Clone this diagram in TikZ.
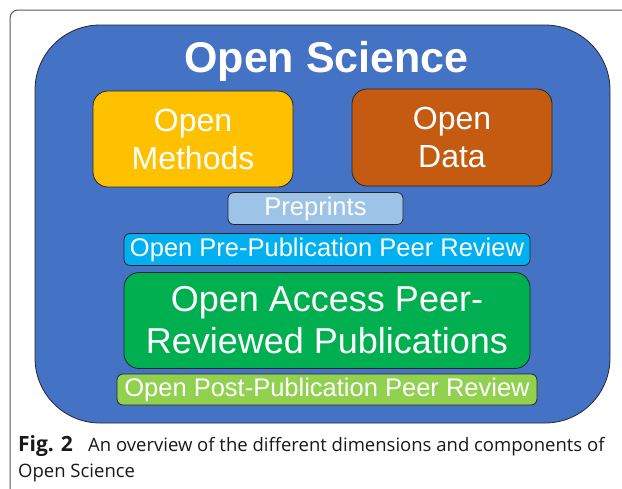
\documentclass[tikz,border=0pt]{standalone}
\usepackage{fontspec}
\setmainfont{Liberation Sans}
\newfontfamily\capfont{Open Sans}
\definecolor{osblue}{HTML}{4472C4}
\definecolor{osyellow}{HTML}{FFC000}
\definecolor{osorange}{HTML}{C55A11}
\definecolor{oslight}{HTML}{9DC3E6}
\definecolor{oscyan}{HTML}{00B0F0}
\definecolor{osgreen}{HTML}{00B050}
\definecolor{oslime}{HTML}{92D050}
\tikzset{
  box/.style={draw=black!85, line width=0.8pt, text=white, align=center, inner sep=0pt, font=\fontsize{25.5}{30}\selectfont},
  bigbox/.style={box, rounded corners=15pt, font=\fontsize{32}{38}\selectfont},
  slimbox/.style={box, rounded corners=6pt},
  captext/.style={anchor=base west, inner sep=0pt, font=\capfont\fontsize{18.5}{26}\selectfont, text=black!90},
}
\begin{document}
\begin{tikzpicture}[x=1pt,y=-1pt]
\useasboundingbox (0,0) rectangle (622,488);
\clip (0,0) rectangle (622,488);
\fill[white] (0,0) rectangle (622,488);
\draw[black!65, line width=1pt, rounded corners=8pt] (10,10) rectangle (660,540);
% outer Open Science box
\node[draw=black!85, line width=0.8pt, fill=osblue, rounded corners=65pt, minimum width=575pt, minimum height=398pt, inner sep=0pt] (os) at (322.5,224) {};
\node[anchor=base, text=white, font=\fontsize{43}{50}\selectfont\bfseries, inner sep=0pt] (title) at (326.5,72) {Open Science};
\node[bigbox, fill=osyellow, minimum width=200pt, minimum height=96pt] (methods) at (193,139) {Open\\Methods};
\node[bigbox, fill=osorange, minimum width=200pt, minimum height=97pt] (data) at (452,137.5) {Open\\Data};
\node[slimbox, fill=oslight, minimum width=175pt, minimum height=32pt] (pre) at (315.5,208.5) {Preprints};
\node[slimbox, fill=oscyan, minimum width=406pt, minimum height=32pt] (prepub) at (327,249.5) {Open Pre-Publication Peer Review};
\node[bigbox, fill=osgreen, minimum width=406pt, minimum height=96pt, font=\fontsize{36}{42}\selectfont] (access) at (327,320.5) {Open Access Peer-\\Reviewed Publications};
\node[slimbox, fill=oslime, minimum width=420pt, minimum height=31pt] (post) at (327,389.5) {Open Post-Publication Peer Review};
% caption
\node[captext, font=\capfont\bfseries\fontsize{21}{26}\selectfont] (fig) at (18,451) {Fig.\,\,2};
\node[captext] (cap1) at (88,451) {An overview of the different dimensions and components of};
\node[captext] (cap2) at (18,477) {Open Science};
\end{tikzpicture}
\end{document}
